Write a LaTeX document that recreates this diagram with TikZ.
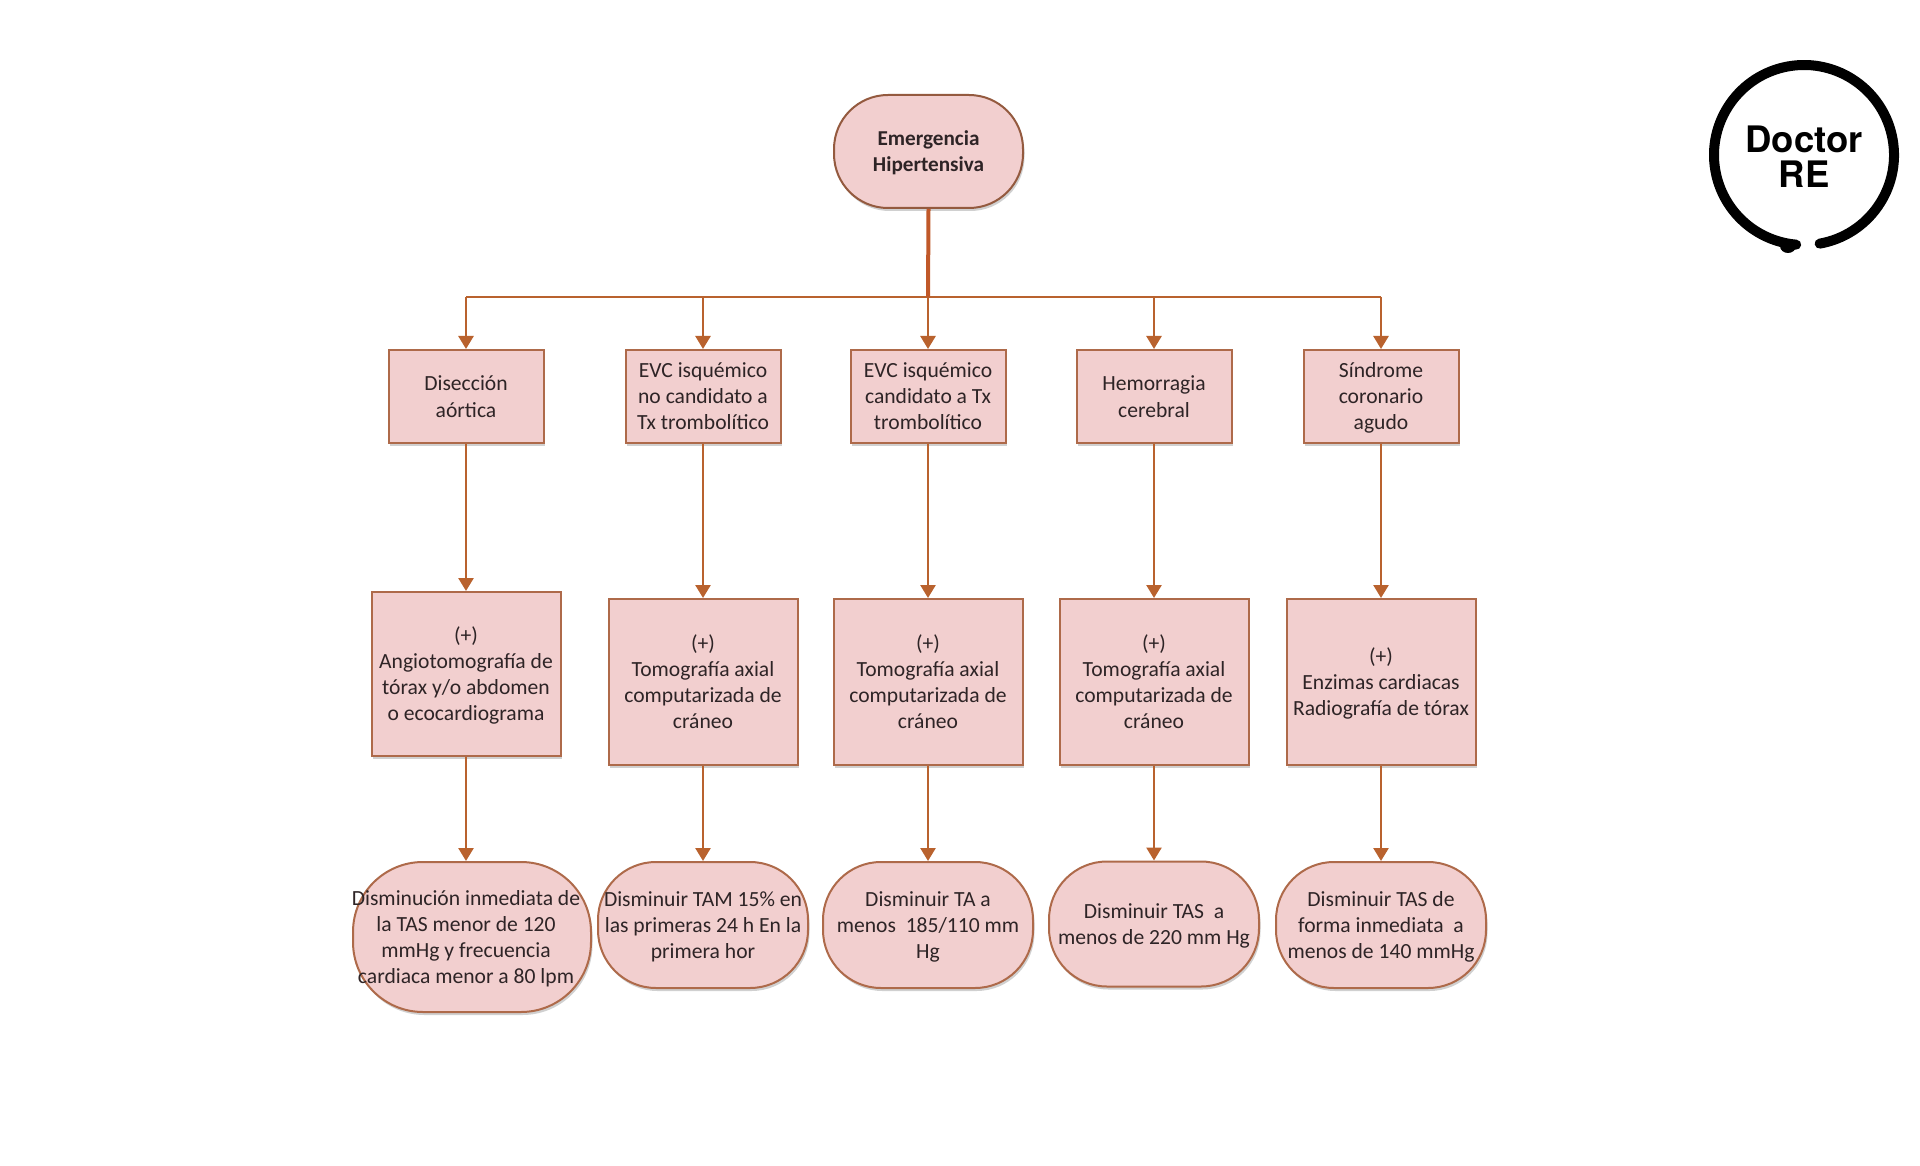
\documentclass[tikz,border=0pt]{standalone}
\usepackage{fontspec}
\setmainfont{Carlito}
\newfontfamily\logofont{TeX Gyre Heros}
\usetikzlibrary{arrows.meta,shadows}
\definecolor{boxfill}{HTML}{F2CFCF}
\definecolor{boxline}{HTML}{AE6A4A}
\definecolor{conn}{HTML}{B9622E}
\definecolor{txt}{HTML}{2E2426}
\tikzset{
  x=1pt,y=-1pt,
  base/.style={fill=boxfill,draw=boxline,line width=2pt,text=txt,align=center,inner sep=0pt,
    font=\fontsize{21.6}{26}\selectfont,text depth=-1pt,
    drop shadow={shadow xshift=1.5pt,shadow yshift=-3pt,opacity=.3,fill=black!60}},
  rectbox/.style={base,rectangle,minimum width=#1},
  rectbox/.default=155pt,
  termbox/.style={base,rectangle,rounded corners=58pt,minimum width=#1},
  flow/.style={draw=conn,line width=2.6pt,-{Triangle[length=13pt,width=15pt]}},
  bus/.style={draw=conn,line width=2.2pt},
  plain/.style={inner sep=0pt,align=center,text=txt,font=\fontsize{21.6}{26}\selectfont},
}
\begin{document}
\begin{tikzpicture}
\useasboundingbox (0,0) rectangle (1920,1166);
\fill[white] (0,0) rectangle (1920,1166);
% top
\node[termbox=189pt,rounded corners=54pt,minimum height=113pt,draw=boxline!85!black,font=\fontsize{21.2}{26}\selectfont\bfseries] (top) at (928.5,151.5) {Emergencia\\Hipertensiva};
% row 1
\foreach \n/\x/\t in {
  a1/466/{Disección\\[1.5pt]aórtica},
  a2/703/{EVC isquémico\\no candidato a\\Tx trombolítico},
  a3/928/{EVC isquémico\\candidato a Tx\\trombolítico},
  a4/1154/{Hemorragia\\[1.5pt]cerebral},
  a5/1381/{Síndrome\\coronario\\agudo}}
  \node[rectbox,minimum height=93pt] (\n) at (\x,396.5) {\t};
% row 2
\node[rectbox=189pt,minimum height=164pt] (b1) at (466,674) {(+)\\Angiotomografía de\\tórax y/o abdomen\\o ecocardiograma};
\node[rectbox=189pt,minimum height=166pt] (b2) at (703,682) {(+)\\Tomografía axial\\computarizada de\\cráneo};
\node[rectbox=189pt,minimum height=166pt] (b3) at (928,682) {(+)\\Tomografía axial\\computarizada de\\cráneo};
\node[rectbox=189pt,minimum height=166pt] (b4) at (1154,682) {(+)\\Tomografía axial\\computarizada de\\cráneo};
\node[rectbox=189pt,minimum height=166pt] (b5) at (1381,682) {(+)\\Enzimas cardiacas\\Radiografía de tórax};
% row 3
\node[termbox=238pt,rounded corners=70pt,minimum height=150pt] (c1) at (472,937) {};
\node[plain] (c1t) at (466,938.5) {Disminución inmediata de\\la TAS menor de 120\\mmHg y frecuencia\\cardiaca menor a 80 lpm};
\node[termbox=210pt,minimum height=126pt] (c2) at (703,925) {Disminuir TAM 15\% en\\las primeras 24 h En la\\primera hor};
\node[termbox=210pt,minimum height=126pt] (c3) at (928,925) {Disminuir TA a\\menos~~185/110 mm\\Hg};
\node[termbox=210pt,minimum height=125pt] (c4) at (1154,924) {Disminuir TAS~~a\\menos de 220 mm Hg};
\node[termbox=210pt,minimum height=126pt] (c5) at (1381,925) {Disminuir TAS de\\forma inmediata~~a\\menos de 140 mmHg};
% connectors
\coordinate (busl) at (466,297);
\coordinate (busr) at (1381,297);
\draw[bus] (busl) -- (busr);
\draw[draw=conn!90!red,line width=4pt] (top.south) -- (928,297);
\draw[flow] (928,297) -- (a3.north);
\draw[flow] (busl) -- (a1.north);
\draw[flow] (a2.north |- busl) -- (a2.north);
\draw[flow] (a4.north |- busl) -- (a4.north);
\draw[flow] (busr) -- (a5.north);
\foreach \i in {1,...,5}{
  \draw[flow] (a\i.south) -- (b\i.north);
}
\draw[flow] (b1.south) -- (b1.south |- c1.north);
\foreach \i in {2,...,5}{
  \draw[flow] (b\i.south) -- (c\i.north);
}
% logo
\draw[line width=10pt,line cap=round,black] (1804,155) ++(80:90) arc[start angle=80,end angle=-265,radius=90];
\fill[black] (1788,246) ellipse[x radius=8pt,y radius=7pt];
\node[inner sep=0pt,align=center,text=black,font=\logofont\fontsize{36.5}{35}\selectfont\bfseries] (logo) at (1804,157) {Doctor\\RE};
\end{tikzpicture}
\end{document}
